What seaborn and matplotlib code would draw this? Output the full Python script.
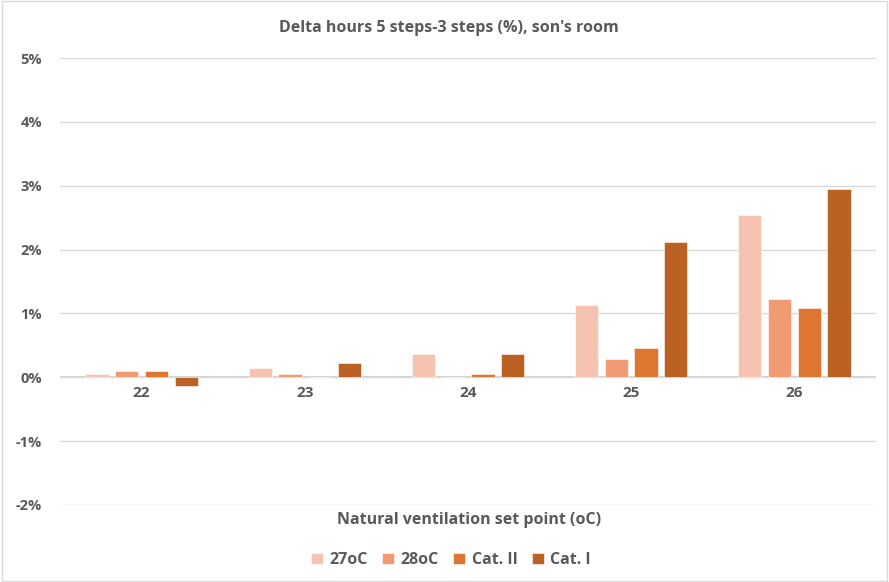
import pandas as pd
import seaborn as sns
import matplotlib.pyplot as plt
from matplotlib.patches import Rectangle
from matplotlib.ticker import FuncFormatter

# ================== data ==================
set_points = ["22", "23", "24", "25", "26"]
series_names = ["27oC", "28oC", "Cat. II", "Cat. I"]
s_27 = [0.05, 0.14, 0.37, 1.13, 2.54]
s_28 = [0.10, 0.05, 0.00, 0.28, 1.23]
s_cat2 = [0.10, 0.00, 0.05, 0.46, 1.09]
s_cat1 = [-0.14, 0.23, 0.37, 2.12, 2.95]
colors = ["#F5C3B0", "#F09B73", "#DE7530", "#BA6123"]

rows = []
for name, vals in zip(series_names, [s_27, s_28, s_cat2, s_cat1]):
    for sp, v in zip(set_points, vals):
        rows.append({"set_point": sp, "series": name, "value": v})
df = pd.DataFrame(rows)

# ================== plot ==================
sns.set_theme(style="white")
plt.rcParams["font.family"] = ["Open Sans", "DejaVu Sans"]
txt = "#595959"

fig = plt.figure(figsize=(8.89, 5.82), dpi=100)
ax = fig.add_axes([60 / 889, 1 - 505 / 582, 816 / 889, 447 / 582])

sns.barplot(
    data=df, x="set_point", y="value", hue="series",
    order=set_points, hue_order=series_names, palette=colors,
    saturation=1, width=0.73, gap=0.22, edgecolor="white", linewidth=0.4,
    ax=ax, legend=True
)

ax.set_ylim(-2, 5)
ax.set_yticks(range(-2, 6))
ax.yaxis.set_major_formatter(FuncFormatter(lambda v, p: f"{int(v)}%"))
ax.grid(axis="y", color="#D9D9D9", linewidth=1)
ax.set_axisbelow(True)
ax.axhline(0, color="#D0D0D0", linewidth=1.3, zorder=0.5)
for s in ax.spines.values():
    s.set_visible(False)
ax.spines["bottom"].set_position(("data", 0))
ax.tick_params(axis="both", length=0, colors=txt)
ax.tick_params(axis="y", pad=13, labelsize=10.5)
ax.tick_params(axis="x", pad=6, labelsize=11)
for lab in ax.get_xticklabels() + ax.get_yticklabels():
    lab.set_fontweight("bold")
ax.set_xlabel("")
ax.set_ylabel("")

fig.text(449 / 889, 1 - 28 / 582, "Delta hours 5 steps-3 steps (%), son's room",
         ha="center", va="center", fontsize=11.5, color=txt, fontweight="bold")
fig.text(469 / 889, 1 - 520 / 582, "Natural ventilation set point (oC)",
         ha="center", va="center", fontsize=11.5, color=txt, fontweight="bold")

ax.legend_.remove()
handles, labels = ax.get_legend_handles_labels()
fig.legend(handles, labels, loc="center", bbox_to_anchor=(451 / 889, 1 - 560 / 582),
           ncol=4, frameon=False, handlelength=0.75, handleheight=0.75,
           handletextpad=0.4, columnspacing=0.9,
           prop={"weight": "bold", "size": 11.5}, labelcolor=txt)

fig.patches.append(Rectangle((0.002, 0.002), 0.996, 0.996, transform=fig.transFigure,
                             fill=False, edgecolor="#D9D9D9", linewidth=1))

plt.savefig("out.png", dpi=100)
